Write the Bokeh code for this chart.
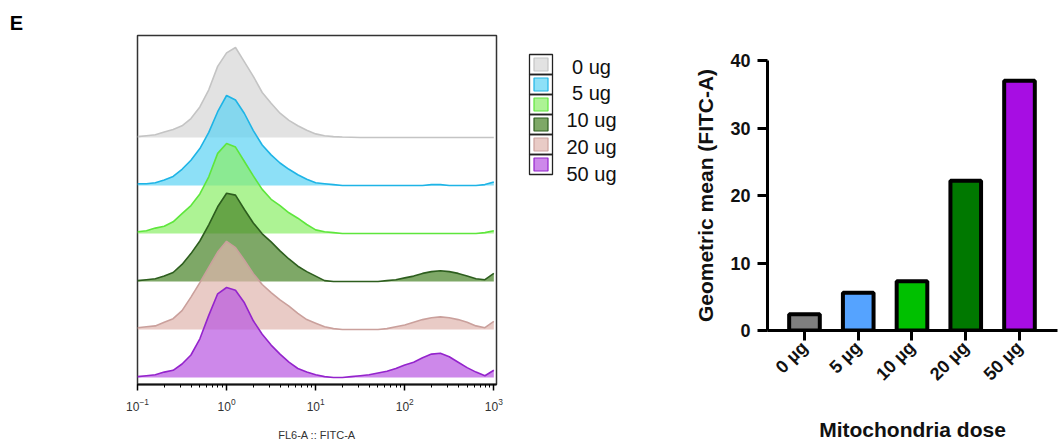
import math
from bokeh.plotting import figure
from bokeh.models import Range1d, FixedTicker
from bokeh.embed import file_html
from bokeh.resources import INLINE

FONT = "Liberation Sans"

# ---------------- data: flow histograms (percent of mode) ----------------
log_bins = [round(-1.0 + 0.1 * i, 1) for i in range(41)]   # log10(FITC-A) bin centres
pct_0ug = [1, 2, 3, 6, 9, 13, 21, 34, 53, 79, 94, 100, 84, 68, 50, 38, 27, 19, 13, 8,
           4, 2, 1, 0.5, 0.3, 0, 0, 0, 0, 0, 0, 0, 0, 0, 0, 0, 0, 0, 0, 0, 0]
pct_5ug = [2, 2, 3, 6, 10, 18, 28, 41, 59, 82, 100, 95, 80, 61, 45, 34, 25, 18, 12, 7,
           3, 2, 1, 0, 0, 0, 0, 0, 0, 0, 0, 0, 0, 1, 1, 0, 0, 0, 0, 1, 4]
pct_10ug = [2, 3, 6, 8, 13, 22, 31, 44, 63, 89, 100, 96, 80, 64, 49, 38, 31, 23, 17, 10,
            4, 2, 1, 0, 0, 0, 0, 0, 0, 0, 0, 0, 0, 0, 0, 0, 0, 0, 0, 1, 3]
pct_20ug = [1, 2, 3, 6, 10, 19, 31, 45, 63, 83, 98, 96, 80, 65, 53, 44, 34, 25, 17, 11,
            6, 1, 0, 0, 0, 0, 0, 0, 1, 2, 4, 6, 9, 11, 12, 11, 9, 6, 3, 2, 9]
pct_30ug = [2, 3, 4, 8, 12, 21, 36, 52, 69, 86, 98, 91, 77, 62, 50, 41, 33, 26, 18, 11,
            7, 3, 1, 0, 0, 0, 0, 0, 1, 3, 5, 8, 11, 13, 14, 13, 11, 8, 4, 2, 9]
pct_50ug = [1, 2, 3, 6, 8, 15, 25, 43, 69, 93, 100, 97, 83, 63, 48, 36, 26, 17, 10, 6,
            3, 1, 0, 0, 1, 2, 3, 5, 7, 10, 14, 17, 22, 26, 27, 23, 17, 11, 6, 2, 8]
hist_series = [pct_0ug, pct_5ug, pct_10ug, pct_20ug, pct_30ug, pct_50ug]
hist_fill = ["#d6d6d6", "#5cd3f4", "#8aee66", "#478327", "#e0b5ae", "#b855e1"]
hist_line = ["#c4c4c4", "#1eb4e6", "#5ee63c", "#2d5e1e", "#caa09c", "#9424cc"]
legend_labels = ["0 ug", "5 ug", "10 ug", "20 ug", "50 ug"]
panel_letter = ["E"]

# ---------------- data: geometric mean bar chart ----------------
doses = ["0 µg", "5 µg", "10 µg", "20 µg", "50 µg"]
geo_mean = [2.4, 5.6, 7.3, 22.2, 37.0]
bar_colors = ["#7f7f7f", "#55a3ff", "#00c000", "#007800", "#a70de3"]

H = 444

# ---------------- panel letter ----------------
pe = figure(width=30, height=H, x_range=Range1d(0, 30), y_range=Range1d(H, 0),
            output_backend="svg", toolbar_location=None, x_axis_location=None,
            y_axis_location=None, min_border=0)
pe.grid.visible = False
pe.outline_line_color = None
pe.text(x=[16], y=[22], text=panel_letter, text_font={"value": FONT},
        text_font_size="20px", text_font_style="bold", text_align="center",
        text_baseline="middle", text_color="black")

# ---------------- histogram panel ----------------
W_H = 485
ph = figure(width=W_H, height=H, x_axis_type="log",
            x_range=Range1d(10 ** -1.0, 10 ** 3.03), y_range=Range1d(-0.146, 7.125),
            output_backend="svg", toolbar_location=None, y_axis_location=None,
            min_border_left=107, min_border_right=19, min_border_top=35,
            min_border_bottom=H - 384)
ph.grid.visible = False
ph.outline_line_color = "#333333"
ph.outline_line_width = 1.5

xs = [10 ** v for v in log_bins]
scale = 1.875
n_rows = len(hist_series)
for k, (vals, fc, lc) in enumerate(zip(hist_series, hist_fill, hist_line)):
    base = n_rows - 1 - k
    top = [base + v / 100.0 * scale for v in vals]
    ph.varea(x=xs, y1=[base] * len(xs), y2=top, fill_color=fc, fill_alpha=0.7)
    ph.line(xs, top, line_color=lc, line_width=1.6)

ax = ph.xaxis[0]
ax.axis_label = "FL6-A :: FITC-A"
ax.axis_label_text_font = FONT
ax.axis_label_text_font_size = "11px"
ax.axis_label_text_font_style = "normal"
ax.axis_label_text_color = "#333333"
ax.axis_label_standoff = 15
ax.major_label_text_font = FONT
ax.major_label_text_font_size = "12px"
ax.major_label_text_color = "#333333"
ax.major_label_standoff = 7
ax.axis_line_width = 2
ax.axis_line_color = "#111111"
ax.major_tick_out = 6
ax.major_tick_in = 0
ax.minor_tick_out = 3
ax.minor_tick_in = 0
ax.major_tick_line_width = 1.5

# ---------------- legend panel ----------------
pl = figure(width=125, height=H, x_range=Range1d(0, 125), y_range=Range1d(H, 0),
            output_backend="svg", toolbar_location=None, x_axis_location=None,
            y_axis_location=None, min_border=0)
pl.grid.visible = False
pl.outline_line_color = None
n_sw = len(hist_fill)
cell_y = [64 + 20 * i for i in range(n_sw)]
pl.rect(x=[25.5] * n_sw, y=cell_y, width=23, height=20, fill_color=None,
        line_color="#222222", line_width=1.3)
pl.rect(x=[25.5] * n_sw, y=cell_y, width=14, height=13, fill_color=hist_fill,
        fill_alpha=0.7, line_color=hist_line, line_width=1.2)
pl.text(x=[76] * len(legend_labels), y=[66 + 26.8 * i for i in range(len(legend_labels))],
        text=legend_labels, text_font={"value": FONT}, text_font_size="20px",
        text_align="center", text_baseline="middle", text_color="#111111")

# ---------------- bar panel ----------------
pb = figure(width=418, height=H, x_range=Range1d(-0.688, 4.707), y_range=Range1d(0, 40),
            output_backend="svg", toolbar_location=None,
            min_border_left=127, min_border_right=1, min_border_top=60,
            min_border_bottom=H - 335)
pb.grid.visible = False
pb.outline_line_color = None
pb.vbar(x=list(range(len(doses))), top=geo_mean, width=0.57, fill_color=bar_colors,
        line_color="black", line_width=4)

xa = pb.xaxis[0]
xa.ticker = FixedTicker(ticks=list(range(len(doses))))
xa.major_label_overrides = {i: d for i, d in enumerate(doses)}
xa.major_label_orientation = math.pi / 4
xa.axis_label = "Mitochondria dose"
ya = pb.yaxis[0]
ya.ticker = FixedTicker(ticks=[0, 10, 20, 30, 40])
ya.axis_label = "Geometric mean (FITC-A)"
for a in (xa, ya):
    a.axis_line_width = 3
    a.axis_line_color = "black"
    a.major_tick_line_width = 3
    a.major_tick_out = 10
    a.major_tick_in = 0
    a.minor_tick_line_color = None
    a.major_label_text_font = FONT
    a.major_label_text_font_size = "18px"
    a.major_label_text_font_style = "bold"
    a.major_label_text_color = "#111111"
    a.axis_label_text_font = FONT
    a.axis_label_text_font_size = "21px"
    a.axis_label_text_font_style = "bold"
    a.axis_label_text_color = "#111111"
xa.major_label_standoff = 4
xa.axis_label_standoff = 24
ya.major_label_standoff = 7
ya.axis_label_standoff = 10

template = """
{% block postamble %}
<style>
html, body { margin: 0; padding: 0; }
body { display: flex; flex-direction: row; align-items: flex-start; }
body > * { flex-shrink: 0; }
</style>
{% endblock %}
"""
open("out.html", "w").write(file_html([pe, ph, pl, pb], INLINE, template=template))
